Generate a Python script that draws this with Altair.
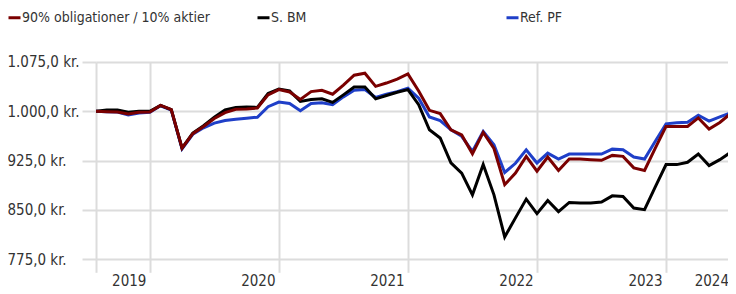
import altair as alt
import pandas as pd

# month index (0 = first month shown; last point is half a month further)
months = [0, 1, 2, 3, 4, 5, 6, 7, 8, 9, 10, 11, 12, 13, 14, 15, 16, 17, 18, 19,
          20, 21, 22, 23, 24, 25, 26, 27, 28, 29, 30, 31, 32, 33, 34, 35, 36, 37, 38, 39,
          40, 41, 42, 43, 44, 45, 46, 47, 48, 49, 50, 51, 52, 53, 54, 55, 56, 57, 58, 59, 59.5]

pf_90_10 = [1000, 999.5, 999, 996, 998.5, 999, 1009, 1002.5, 944, 966,
            977, 989, 998, 1003, 1003.5, 1005, 1025, 1033, 1029.5, 1018,
            1030, 1032, 1026, 1040, 1055, 1058, 1038, 1043, 1049, 1057,
            1031, 1001.5, 996.5, 972, 964, 935.5, 968, 943.5, 888.5, 906,
            931.5, 909, 930.5, 910, 927.5, 927.5, 926.5, 925.5, 933, 931.5,
            914, 910, 944, 977, 977, 977, 990, 973, 983, 996.5, 1005]

s_bm = [1000, 1002, 1002, 998.5, 1000, 1000, 1009, 1002.5, 944, 967,
        978, 991, 1002, 1006, 1006.5, 1006, 1027, 1034, 1031, 1015,
        1018, 1019, 1013.5, 1025, 1037, 1037, 1019, 1024, 1029, 1033,
        1010, 972, 959.5, 921.5, 906, 873, 919, 873, 809, 838,
        866.5, 844.5, 864.5, 847.5, 861.5, 860.5, 860.5, 862, 871.5, 870.5,
        853, 850.5, 885, 919, 919, 922.5, 935, 917.5, 926.5, 937.5, 949]

ref_pf = [1000, 999.5, 999, 994.5, 997.5, 998.5, 1008.5, 1002, 943, 965,
          975, 982, 986, 988, 989.5, 991, 1007, 1014, 1012, 1001,
          1012, 1013, 1010, 1022, 1032, 1033, 1021, 1026, 1030, 1035,
          1020, 991.5, 986, 972, 962, 939, 969.5, 949, 907, 921,
          941.5, 921.5, 936.5, 927.5, 935, 935, 935, 935, 942.5, 941.5,
          930.5, 927.5, 954.5, 981, 982.5, 983.5, 994, 985, 991.5, 997.5, 1005]

series_names = ["90% obligationer / 10% aktier", "S. BM", "Ref. PF"]
series_colors = ["#7a0000", "#000000", "#1f3fc8"]

x_tick_values = [0, 5, 17, 29, 41, 53, 58.7]
x_tick_labels = ["", "2019", "2020", "2021", "2022", "2023", "2024"]
y_tick_values = [775, 850, 925, 1000, 1075]
y_tick_labels = ["775,0 kr.", "850,0 kr.", "925,0 kr.", "1.000,0 kr.", "1.075,0 kr."]

FONT = "DejaVu Sans Condensed, DejaVu Sans, sans-serif"
GRID = "#dcdcdc"
TXT = "#333333"


def label_expr(values, labels):
    expr = "''"
    for v, lab in reversed(list(zip(values, labels))):
        expr = f"datum.value == {v} ? '{lab}' : ({expr})"
    return expr


rows = []
for name, vals in zip(series_names, [pf_90_10, s_bm, ref_pf]):
    for m, v in zip(months, vals):
        rows.append({"m": m, "v": v, "series": name})
df = pd.DataFrame(rows)

x_enc = alt.X(
    "m:Q",
    scale=alt.Scale(domain=[0, 58.76], nice=False, zero=False),
    axis=alt.Axis(
        values=x_tick_values,
        labelExpr=label_expr(x_tick_values, x_tick_labels),
        title=None,
        domain=False,
        grid=True,
        gridColor={"condition": {"test": "datum.value > 58", "value": "transparent"}, "value": GRID},
        gridWidth=2,
        tickColor={"condition": {"test": "datum.value > 58", "value": "transparent"}, "value": GRID},
        tickWidth=2,
        tickSize=13,
        labelOffset={"condition": {"test": "datum.value > 58", "value": -16}, "value": -21},
        labelPadding=1,
        labelFlush=False,
        labelOverlap=False,
        labelFont=FONT,
        labelFontSize=15,
        labelColor=TXT,
    ),
)
y_enc = alt.Y(
    "v:Q",
    scale=alt.Scale(domain=[775, 1075], nice=False, zero=False),
    axis=alt.Axis(
        values=y_tick_values,
        labelExpr=label_expr(y_tick_values, y_tick_labels),
        title=None,
        domain=False,
        grid=True,
        gridColor=GRID,
        gridWidth=2,
        tickColor=GRID,
        tickWidth=2,
        tickSize=14,
        labelAlign="left",
        labelBaseline="middle",
        labelPadding=75,
        labelFont=FONT,
        labelFontSize=15,
        labelColor=TXT,
        labelOverlap=False,
    ),
)
color_enc = alt.Color(
    "series:N",
    scale=alt.Scale(domain=series_names, range=series_colors),
    legend=alt.Legend(
        title=None,
        orient="none",
        legendX=-89,
        legendY=-52,
        direction="horizontal",
        columns=3,
        columnPadding=40,
        gridAlign="all",
        symbolType="stroke",
        symbolSize=144,
        symbolStrokeWidth=3,
        labelOffset=0,
        labelFont=FONT,
        labelFontSize=14,
        labelColor=TXT,
        labelLimit=400,
    ),
)

base = alt.Chart(df).encode(x=x_enc, y=y_enc, color=color_enc)

layers = [
    base.transform_filter(alt.datum.series == name).mark_line(strokeWidth=3, clip=True)
    for name in [series_names[2], series_names[1], series_names[0]]
]

chart = alt.layer(*layers).properties(
    width=632,
    height=197.3,
    autosize=alt.AutoSizeParams(type="none"),
    padding={"left": 88, "top": 54, "right": 0, "bottom": 34},
).configure_view(stroke="transparent")

chart.save("out.html", embed_options={"renderer": "svg", "actions": False})
